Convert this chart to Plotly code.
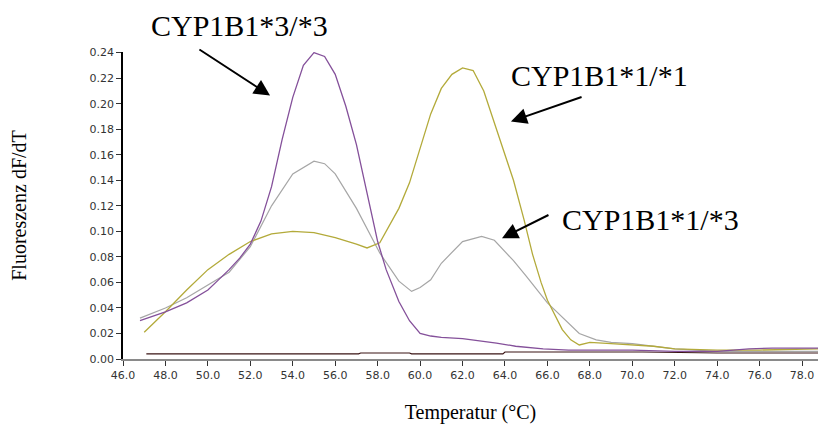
import plotly.graph_objects as go

# Melting curve derivative data (temperature in °C, -dF/dT)
temp_33 = [46.8, 47.5, 48.0, 49.0, 50.0, 50.5, 51.0, 51.5, 52.0, 52.5, 53.0, 53.5, 54.0, 54.5,
           55.0, 55.5, 56.0, 56.5, 57.0, 57.5, 58.0, 58.4, 58.7, 59.0, 59.5, 60.0, 60.5,
           61.0, 62.0, 63.0, 63.6, 64.5, 65.8, 67.0, 70.0, 72.0, 74.0, 75.5, 76.6, 78.8]
val_33 = [0.030, 0.034, 0.037, 0.044, 0.054, 0.062, 0.070, 0.079, 0.090, 0.108, 0.135, 0.172, 0.205, 0.230,
          0.240, 0.237, 0.223, 0.198, 0.168, 0.130, 0.092, 0.070, 0.058, 0.045, 0.030, 0.020, 0.018,
          0.017, 0.016, 0.014, 0.0125, 0.010, 0.008, 0.007, 0.007, 0.006, 0.006, 0.008, 0.0085, 0.0085]

temp_11 = [47.0, 48.0, 49.0, 50.0, 51.0, 52.0, 53.0, 54.0, 55.0, 56.0, 57.0, 57.5, 58.1, 58.7,
           59.0, 59.5, 60.0, 60.5, 61.0, 61.5, 62.0, 62.5, 63.0, 63.6, 64.0, 64.4, 64.9, 65.3,
           65.7, 66.0, 66.7, 67.1, 67.5, 68.0, 69.0, 70.0, 71.0, 72.0, 74.0, 76.0, 78.8]
val_11 = [0.021, 0.037, 0.054, 0.070, 0.082, 0.092, 0.098, 0.100, 0.099, 0.095, 0.090, 0.087, 0.091, 0.109,
          0.118, 0.138, 0.165, 0.192, 0.212, 0.223, 0.228, 0.226, 0.210, 0.180, 0.160, 0.140, 0.109, 0.082,
          0.060, 0.046, 0.023, 0.015, 0.011, 0.013, 0.012, 0.011, 0.010, 0.008, 0.007, 0.007, 0.008]

temp_13 = [46.8, 48.0, 49.0, 50.0, 51.0, 52.0, 53.0, 54.0, 55.0, 55.5, 56.0, 57.0, 58.1, 59.0,
           59.6, 60.0, 60.5, 61.0, 62.0, 62.9, 63.5, 64.4, 65.0, 66.0, 67.5, 68.3, 69.0, 70.0,
           71.0, 72.0, 73.0, 74.0, 76.0, 78.8]
val_13 = [0.032, 0.040, 0.048, 0.058, 0.068, 0.088, 0.120, 0.145, 0.155, 0.153, 0.145, 0.118, 0.083, 0.061,
          0.053, 0.056, 0.062, 0.075, 0.092, 0.096, 0.093, 0.077, 0.065, 0.044, 0.020, 0.015, 0.013, 0.012,
          0.010, 0.008, 0.007, 0.006, 0.006, 0.006]

temp_ntc = [47.1, 57.1, 57.2, 59.5, 59.6, 63.9, 64.0, 70.5, 74.0, 78.8]
val_ntc = [0.004, 0.004, 0.0047, 0.0047, 0.004, 0.004, 0.0055, 0.0055, 0.0047, 0.0047]

x_ticks = [46.0, 48.0, 50.0, 52.0, 54.0, 56.0, 58.0, 60.0, 62.0, 64.0, 66.0, 68.0, 70.0, 72.0, 74.0, 76.0, 78.0]
y_ticks = [0.00, 0.02, 0.04, 0.06, 0.08, 0.10, 0.12, 0.14, 0.16, 0.18, 0.20, 0.22, 0.24]

# Genotype labels: text position in paper units, arrow tail and tip in data units
labels = [
    ("CYP1B1*3/*3", 0.1683, 1.0847, 49.53, 0.2432, 52.93, 0.2064),
    ("CYP1B1*1/*1", 0.6863, 0.9250, 67.68, 0.2056, 64.28, 0.1861),
    ("CYP1B1*1/*3", 0.7583, 0.4560, 66.12, 0.1134, 63.86, 0.0946),
]

fig = go.Figure()
fig.add_trace(go.Scatter(x=temp_ntc, y=val_ntc, mode="lines", line=dict(color="#3a1414", width=1.2)))
fig.add_trace(go.Scatter(x=temp_13, y=val_13, mode="lines", line=dict(color="#a6a6a6", width=1.2)))
fig.add_trace(go.Scatter(x=temp_11, y=val_11, mode="lines", line=dict(color="#b3aa3a", width=1.3)))
fig.add_trace(go.Scatter(x=temp_33, y=val_33, mode="lines", line=dict(color="#84509a", width=1.3)))

annotations = []
for text, tx, ty, ax, ay, hx, hy in labels:
    annotations.append(dict(x=tx, y=ty, xref="paper", yref="paper", text=text, showarrow=False,
                            xanchor="center", yanchor="middle",
                            font=dict(family="Liberation Serif", size=30, color="#000000")))
    annotations.append(dict(x=hx, y=hy, xref="x", yref="y", ax=ax, ay=ay, axref="x", ayref="y",
                            text="", showarrow=True, arrowhead=2, arrowsize=1.6, arrowwidth=2,
                            arrowcolor="#000000"))

fig.update_layout(
    width=818, height=428,
    margin=dict(l=123, r=0, t=52, b=69),
    paper_bgcolor="white", plot_bgcolor="white",
    showlegend=False,
    annotations=annotations,
    xaxis=dict(range=[46.0, 78.75], tickvals=x_ticks, ticktext=[f"{v:.1f}" for v in x_ticks],
               showgrid=False, zeroline=False, showline=True, linecolor="#8a8a8a", linewidth=1.5,
               ticks="outside", ticklen=5, tickcolor="#333333",
               tickfont=dict(family="DejaVu Sans", size=11, color="#333333"),
               title=dict(text="Temperatur (°C)", standoff=24,
                          font=dict(family="Liberation Serif", size=20, color="#000000"))),
    yaxis=dict(range=[0, 0.2405], tickvals=y_ticks, ticktext=[f"{v:.2f}" for v in y_ticks],
               showgrid=False, zeroline=False, showline=True, linecolor="#000000", linewidth=1.5,
               ticks="outside", ticklen=5, tickcolor="#333333",
               tickfont=dict(family="DejaVu Sans", size=11, color="#333333"),
               title=dict(text="Fluoreszenz dF/dT", standoff=58,
                          font=dict(family="Liberation Serif", size=20, color="#000000"))),
)

fig.write_html("out.html")
